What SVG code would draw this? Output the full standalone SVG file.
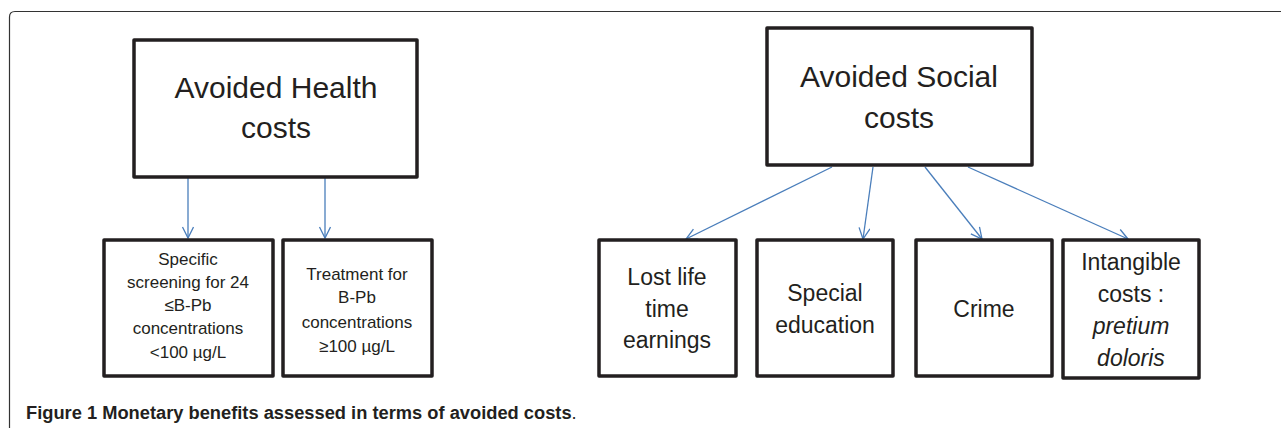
<svg xmlns="http://www.w3.org/2000/svg" width="1281" height="428" viewBox="0 0 1281 428">
<style>
.box{fill:#fff;stroke:#231f20;stroke-width:3.5;stroke-linejoin:round}
.t{font-family:"Liberation Sans",Arial,sans-serif;fill:#231f20;text-anchor:middle}
.big{font-size:30px}
.mid{font-size:23px}
.sm{font-size:17px}
.cap{font-family:"Liberation Sans",Arial,sans-serif;font-size:18.3px;fill:#231f20;font-weight:bold}
.conn{stroke:#4a7ebb;stroke-width:1.3;fill:none;marker-end:url(#arr)}
</style>
<defs>
<marker id="arr" markerUnits="userSpaceOnUse" markerWidth="14" markerHeight="14" refX="12" refY="6" orient="auto">
<path d="M1,0.5 L12,6 L1,11.5" fill="none" stroke="#4a7ebb" stroke-width="1.3"/>
</marker>
</defs>
<rect width="1281" height="428" fill="#fff"/>
<path d="M9.5,428 V17 Q9.5,11.5 15,11.5 H1281" fill="none" stroke="#333" stroke-width="1.2"/>
<g id="connectors">
<line class="conn" x1="188" y1="178" x2="188" y2="238"/>
<line class="conn" x1="325" y1="178" x2="325" y2="238"/>
<line class="conn" x1="832" y1="167" x2="686" y2="239"/>
<line class="conn" x1="873" y1="167" x2="863" y2="239"/>
<line class="conn" x1="925" y1="167" x2="982" y2="239"/>
<line class="conn" x1="968" y1="167" x2="1128" y2="239"/>
</g>
<g id="health">
<rect class="box" x="134" y="40" width="283" height="137"/>
<text class="t big" x="276" y="98">Avoided Health</text>
<text class="t big" x="276" y="138">costs</text>
</g>
<g id="screening">
<rect class="box" x="104" y="240" width="169" height="136"/>
<text class="t sm" x="188" y="265">Specific</text>
<text class="t sm" x="188" y="288">screening for 24</text>
<text class="t sm" x="188" y="311">≤B-Pb</text>
<text class="t sm" x="188" y="334">concentrations</text>
<text class="t sm" x="188" y="358">&lt;100 µg/L</text>
</g>
<g id="treatment">
<rect class="box" x="283" y="240" width="149" height="136"/>
<text class="t sm" x="357" y="280">Treatment for</text>
<text class="t sm" x="357" y="303">B-Pb</text>
<text class="t sm" x="357" y="328">concentrations</text>
<text class="t sm" x="357" y="352">≥100 µg/L</text>
</g>
<g id="social">
<rect class="box" x="767" y="28" width="265" height="137"/>
<text class="t big" x="899" y="87">Avoided Social</text>
<text class="t big" x="899" y="128">costs</text>
</g>
<g id="lost">
<rect class="box" x="599" y="240" width="137" height="136"/>
<text class="t mid" x="667" y="285">Lost life</text>
<text class="t mid" x="667" y="317">time</text>
<text class="t mid" x="667" y="348">earnings</text>
</g>
<g id="education">
<rect class="box" x="757" y="240" width="136" height="136"/>
<text class="t mid" x="825" y="301">Special</text>
<text class="t mid" x="825" y="333">education</text>
</g>
<g id="crime">
<rect class="box" x="916" y="240" width="136" height="136"/>
<text class="t mid" x="984" y="317">Crime</text>
</g>
<g id="intangible">
<rect class="box" x="1063" y="240" width="136" height="138"/>
<text class="t mid" x="1131" y="270">Intangible</text>
<text class="t mid" x="1131" y="302">costs :</text>
<text class="t mid" x="1131" y="334" font-style="italic">pretium</text>
<text class="t mid" x="1131" y="366" font-style="italic">doloris</text>
</g>
<text class="cap" x="26" y="419">Figure 1 Monetary benefits assessed in terms of avoided costs<tspan font-weight="normal">.</tspan></text>
</svg>
